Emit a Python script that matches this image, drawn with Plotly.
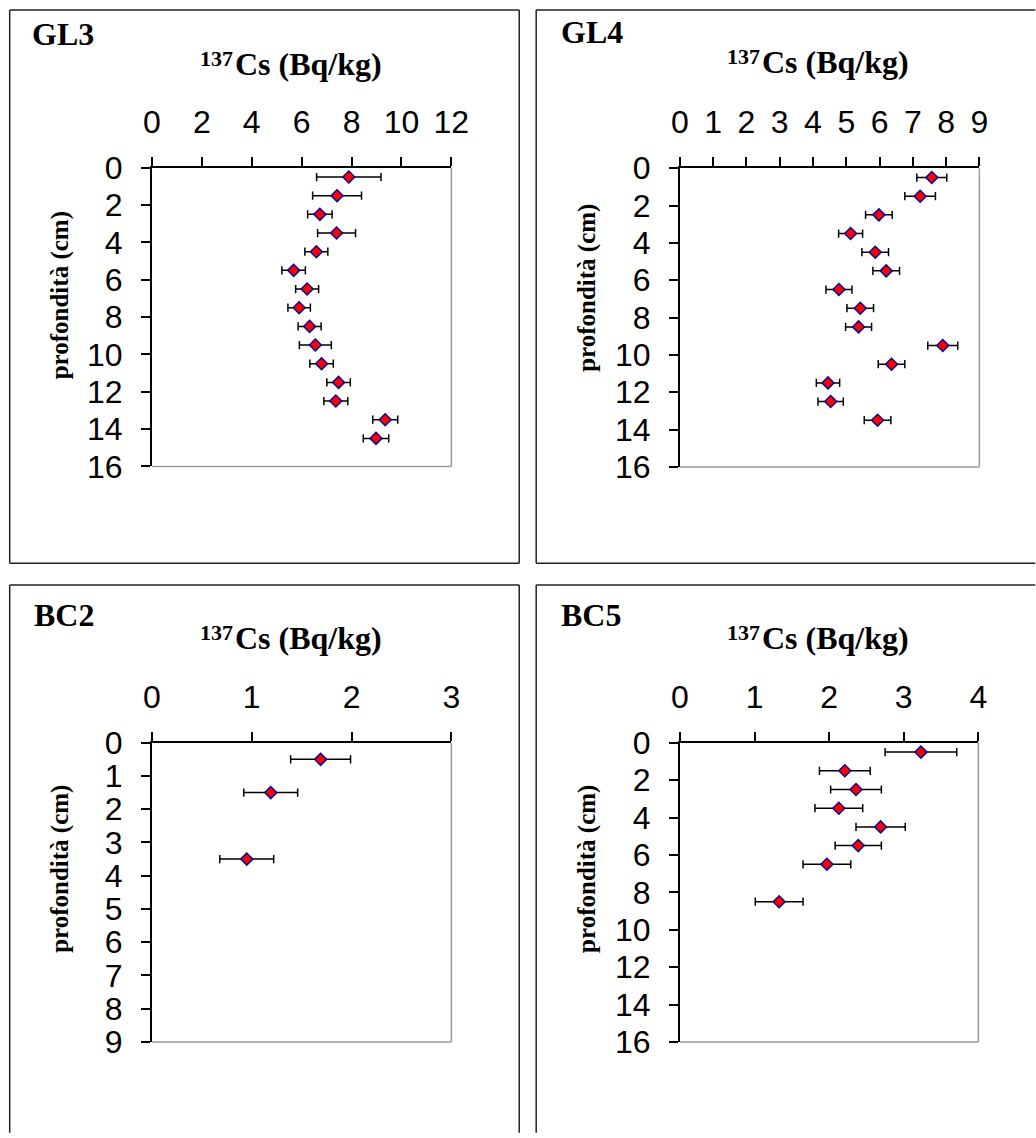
import plotly.graph_objects as go

# Page geometry as photographed: the figure sits inside the page body
# (offset OX, OY) and the photo shows the page at scale S.
S = 0.976
OX, OY = 8.0, 15.0
PAGE_W, PAGE_H = 1036, 1138
W = int(round(PAGE_W / S - 2 * OX))
H = int(round(PAGE_H / S - OY - OX))
K = 1 / S  # size factor

# ---------------- data ----------------
gl3_depth = [0.5, 1.5, 2.5, 3.5, 4.5, 5.5, 6.5, 7.5, 8.5, 9.5, 10.5, 11.5, 12.5, 13.5, 14.5]
gl3_cs = [7.89, 7.42, 6.73, 7.40, 6.59, 5.68, 6.22, 5.90, 6.32, 6.55, 6.80, 7.48, 7.37, 9.35, 8.98]
gl3_err = [1.29, 0.98, 0.49, 0.76, 0.46, 0.47, 0.46, 0.45, 0.46, 0.64, 0.47, 0.47, 0.48, 0.50, 0.51]

gl4_depth = [0.5, 1.5, 2.5, 3.5, 4.5, 5.5, 6.5, 7.5, 8.5, 9.5, 10.5, 11.5, 12.5, 13.5]
gl4_cs = [7.57, 7.22, 5.98, 5.13, 5.87, 6.20, 4.78, 5.42, 5.37, 7.90, 6.36, 4.45, 4.53, 5.94]
gl4_err = [0.45, 0.46, 0.40, 0.36, 0.40, 0.40, 0.39, 0.40, 0.39, 0.45, 0.40, 0.35, 0.38, 0.40]

bc2_depth = [0.5, 1.5, 3.5]
bc2_cs = [1.69, 1.19, 0.95]
bc2_err = [0.30, 0.27, 0.27]

bc5_depth = [0.5, 1.5, 2.5, 3.5, 4.5, 5.5, 6.5, 8.5]
bc5_cs = [3.23, 2.21, 2.36, 2.13, 2.69, 2.39, 1.97, 1.33]
bc5_err = [0.48, 0.34, 0.34, 0.32, 0.33, 0.31, 0.32, 0.32]

panel_names = ["GL3", "GL4", "BC2", "BC5"]
x_title_sup = "137"
x_title_main = "Cs (Bq/kg)"
y_title = "profondità (cm)"

# ---------------- layout helpers (reference pixel -> paper) ----------------
def xp(px):
    return (px / S - OX) / W

def yp(py):
    return 1 - (py / S - OY) / H

SERIF = "Liberation Serif, Times New Roman, serif"
SANS = "Liberation Sans, Arial, Helvetica, sans-serif"

L, T = 8.5, 6.5          # outer frame left / top
RX, BY = 1036, 1138      # picture edges (frames run off the picture here)

panels = [
    dict(name=panel_names[0], x=gl3_cs, y=gl3_depth, e=gl3_err, xmax=12, xd=2, ymax=16, yd=2,
         box=(151, 451, 165.5, 466.5),
         frame=[(L, T, L, 564), (L, T, 519, T), (519, T, 519, 564), (L, 564, 519, 564)],
         lab=(29, 31), cs_x=233, cs_y=60.5, sup_y=55, yt=(59, 294)),
    dict(name=panel_names[1], x=gl4_cs, y=gl4_depth, e=gl4_err, xmax=9, xd=1, ymax=16, yd=2,
         box=(680, 980, 166, 467),
         frame=[(536, T, 536, 564), (536, T, RX, T), (536, 564, RX, 564)],
         lab=(559, 29), cs_x=761, cs_y=58.5, sup_y=53, yt=(587.5, 287)),
    dict(name=panel_names[2], x=bc2_cs, y=bc2_depth, e=bc2_err, xmax=3, xd=1, ymax=9, yd=1,
         box=(151, 451, 745, 1046.5),
         frame=[(L, 586, L, BY), (L, 586, 519, 586), (519, 586, 519, BY)],
         lab=(31, 616), cs_x=233, cs_y=639.5, sup_y=634, yt=(59, 872)),
    dict(name=panel_names[3], x=bc5_cs, y=bc5_depth, e=bc5_err, xmax=4, xd=1, ymax=16, yd=2,
         box=(680, 979, 745, 1046.5),
         frame=[(536, 586, 536, BY), (536, 586, RX, 586)],
         lab=(559, 616), cs_x=761, cs_y=639.5, sup_y=634, yt=(587, 872)),
]

fig = go.Figure()
shapes = []
annotations = []
layout_axes = {}

for i, p in enumerate(panels, start=1):
    xa = "x" if i == 1 else f"x{i}"
    ya = "y" if i == 1 else f"y{i}"
    xkey = "xaxis" if i == 1 else f"xaxis{i}"
    ykey = "yaxis" if i == 1 else f"yaxis{i}"

    fig.add_trace(go.Scatter(
        x=p["x"], y=p["y"], mode="markers",
        xaxis=xa, yaxis=ya,
        marker=dict(symbol="diamond", size=9 * K, color="#ff0000",
                    line=dict(color="#0a0a8c", width=1.5)),
        error_x=dict(type="data", array=p["e"], visible=True,
                     color="#000000", thickness=1.5, width=4 * K),
        showlegend=False, cliponaxis=False,
    ))

    x0, x1, y0, y1 = p["box"]
    axis_common = dict(
        showline=True, linecolor="#000000", linewidth=2,
        ticks="outside", ticklen=round(9 * K), tickwidth=1.5, tickcolor="#000000",
        showgrid=False, zeroline=False,
        tickfont=dict(family=SANS, size=32, color="#000000"),
        fixedrange=True,
    )
    layout_axes[xkey] = dict(
        domain=[xp(x0), xp(x1)], anchor=ya, side="top",
        range=[0, p["xmax"]], dtick=p["xd"], tick0=0,
        ticklabelstandoff=11, **axis_common,
    )
    layout_axes[ykey] = dict(
        domain=[yp(y1), yp(y0)], anchor=xa,
        range=[p["ymax"], 0], dtick=p["yd"], tick0=0,
        ticklabelstandoff=12, **axis_common,
    )

    # grey right & bottom border of the plot area
    shapes.append(dict(type="line", xref=f"{xa} domain", yref=f"{ya} domain",
                       x0=1, x1=1, y0=0, y1=1, line=dict(color="#9a9a9a", width=1.5)))
    shapes.append(dict(type="line", xref=f"{xa} domain", yref=f"{ya} domain",
                       x0=0, x1=1, y0=0, y1=0, line=dict(color="#9a9a9a", width=1.5)))

    # panel frame edges
    for (fx0, fy0, fx1, fy1) in p["frame"]:
        shapes.append(dict(type="line", xref="paper", yref="paper",
                           x0=xp(fx0), x1=xp(fx1), y0=yp(fy0), y1=yp(fy1),
                           line=dict(color="#222222", width=1.5), layer="below"))

    bold_serif = dict(family=SERIF, color="#000000", weight="bold")
    # panel label
    annotations.append(dict(text=p["name"], xref="paper", yref="paper",
                            x=xp(p["lab"][0]), y=yp(p["lab"][1]),
                            xanchor="left", yanchor="middle", showarrow=False,
                            font=dict(size=32, **bold_serif)))
    # x title: superscript mass number + main text
    annotations.append(dict(text=x_title_sup, xref="paper", yref="paper",
                            x=xp(p["cs_x"]), y=yp(p["sup_y"]),
                            xanchor="right", yanchor="middle", showarrow=False,
                            borderpad=0, font=dict(size=22, **bold_serif)))
    annotations.append(dict(text=x_title_main, xref="paper", yref="paper",
                            x=xp(p["cs_x"]), y=yp(p["cs_y"]),
                            xanchor="left", yanchor="middle", showarrow=False,
                            borderpad=0, font=dict(size=32, **bold_serif)))
    # y title
    annotations.append(dict(text=y_title, xref="paper", yref="paper",
                            x=xp(p["yt"][0]), y=yp(p["yt"][1]), textangle=-90,
                            xanchor="center", yanchor="middle", showarrow=False,
                            font=dict(size=25, **bold_serif)))

fig.update_layout(
    width=W, height=H, autosize=False,
    margin=dict(l=0, r=0, t=0, b=0),
    paper_bgcolor="#ffffff", plot_bgcolor="#ffffff",
    shapes=shapes, annotations=annotations,
    **layout_axes,
)

fig.write_html("out.html", config={"displayModeBar": False})
